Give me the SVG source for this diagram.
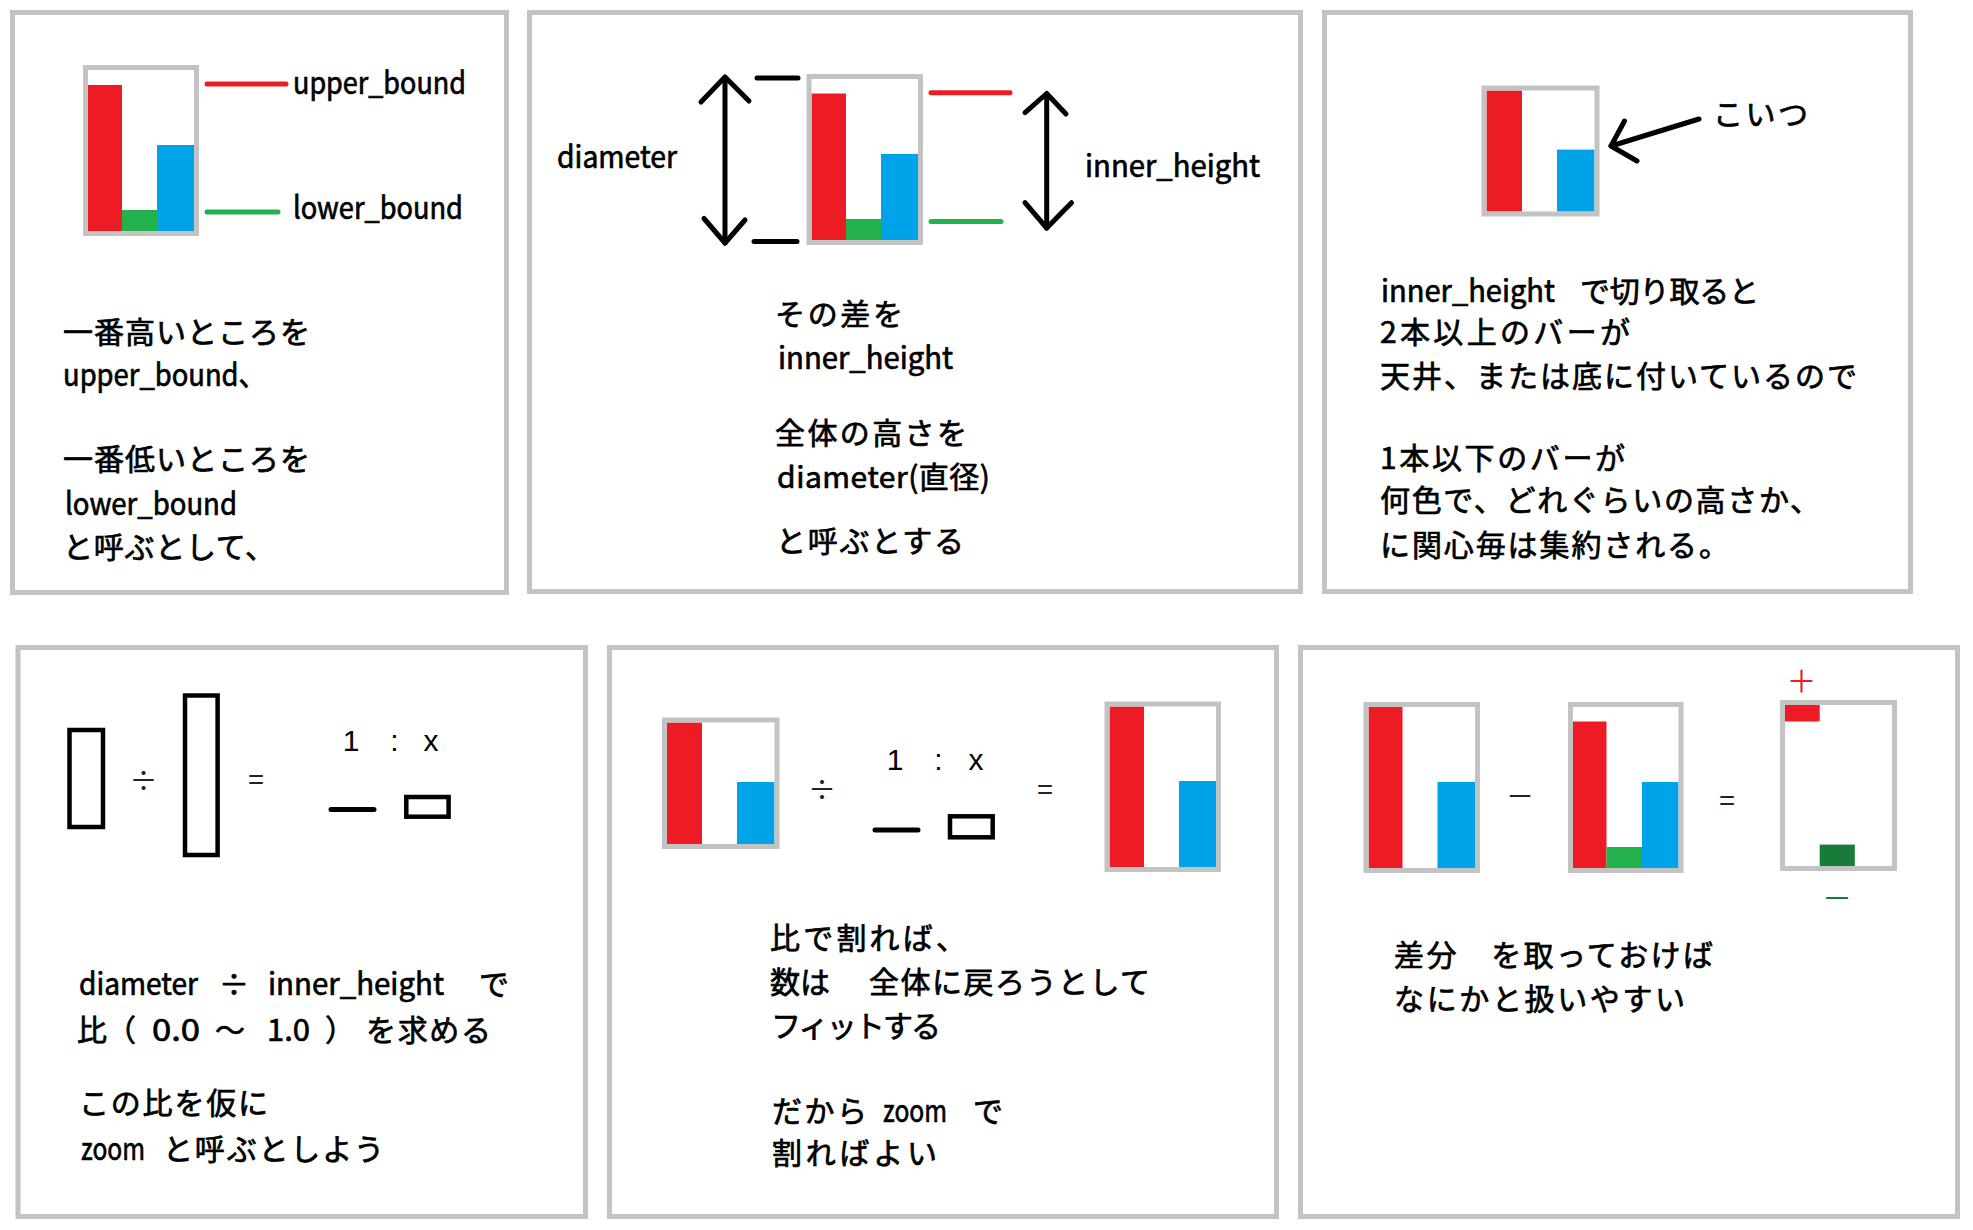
<svg xmlns="http://www.w3.org/2000/svg" width="1973" height="1230" viewBox="0 0 1973 1230">
<style>
.panel{fill:#fff;stroke:#c3c3c3;stroke-width:5}
.frame{fill:none;stroke:#c3c3c3;stroke-width:5}
.r{fill:#ed1c24}.g{fill:#22b14c}.b{fill:#00a2e8}.dg{fill:#197b3a}
.ln{stroke:#000;stroke-width:5;stroke-linecap:round;stroke-linejoin:round;fill:none}
.box{fill:none;stroke:#000;stroke-width:4.5}
.t{font-family:"Noto Sans CJK JP","Noto Sans",sans-serif;font-size:30px;fill:#000;stroke:#000;stroke-width:0.7px}
.lat{font-size:31px}
.num{font-family:"Liberation Sans",Arial,sans-serif;font-size:30px;fill:#000;text-anchor:middle}
.op{font-family:"Noto Sans CJK JP","Noto Sans",sans-serif;font-size:28px;fill:#222;text-anchor:middle}
</style>
<rect width="1973" height="1230" fill="#fff"/>

<g id="panel1">
<rect class="panel" x="12.5" y="12.5" width="494" height="580"/>
<rect class="r" x="88" y="85" width="34" height="146"/>
<rect class="g" x="122" y="210" width="35" height="21"/>
<rect class="b" x="157" y="145" width="37" height="86"/>
<rect class="frame" x="85.5" y="67.5" width="111" height="166"/>
<line x1="207" y1="84" x2="286" y2="84" stroke="#ed1c24" stroke-width="5" stroke-linecap="round"/>
<line x1="207" y1="212" x2="278" y2="212" stroke="#22b14c" stroke-width="5" stroke-linecap="round"/>
<text class="t lat" x="293" y="94" textLength="173" lengthAdjust="spacingAndGlyphs">upper_bound</text>
<text class="t lat" x="293" y="219" textLength="170" lengthAdjust="spacingAndGlyphs">lower_bound</text>
<text class="t" x="63" y="343" textLength="247" lengthAdjust="spacing">一番高いところを</text>
<text class="t lat" x="63" y="386" textLength="203" lengthAdjust="spacingAndGlyphs">upper_bound、</text>
<text class="t" x="63" y="470" textLength="247" lengthAdjust="spacing">一番低いところを</text>
<text class="t lat" x="65" y="515" textLength="172" lengthAdjust="spacingAndGlyphs">lower_bound</text>
<text class="t" x="63" y="558" textLength="212" lengthAdjust="spacing">と呼ぶとして、</text>
</g>

<g id="panel2">
<rect class="panel" x="529.5" y="12.5" width="771" height="579"/>
<rect class="r" x="811.5" y="93.5" width="34.5" height="146.5"/>
<rect class="g" x="846" y="219" width="35" height="21"/>
<rect class="b" x="881" y="154" width="37" height="86"/>
<rect class="frame" x="809" y="76.5" width="111.5" height="166"/>
<line class="ln" x1="725" y1="78" x2="725" y2="243"/>
<polyline class="ln" points="701,102 725,77 749,101"/>
<polyline class="ln" points="704,218.5 725,243 745,220"/>
<line class="ln" x1="757" y1="78" x2="798" y2="78"/>
<line class="ln" x1="754" y1="241.5" x2="797" y2="241.5"/>
<line x1="931" y1="92.7" x2="1010" y2="92.7" stroke="#ed1c24" stroke-width="5" stroke-linecap="round"/>
<line x1="931" y1="221.5" x2="1001" y2="221.5" stroke="#22b14c" stroke-width="5" stroke-linecap="round"/>
<line class="ln" x1="1046.7" y1="94" x2="1046.7" y2="228"/>
<polyline class="ln" points="1025,112.7 1046.7,93.5 1066,114"/>
<polyline class="ln" points="1025,202.7 1046.7,228 1071.5,202.7"/>
<text class="t lat" x="557" y="168" textLength="120" lengthAdjust="spacingAndGlyphs">diameter</text>
<text class="t lat" x="1085" y="177" textLength="175" lengthAdjust="spacingAndGlyphs">inner_height</text>
<text class="t" x="775" y="325" textLength="128" lengthAdjust="spacing">その差を</text>
<text class="t lat" x="778" y="369" textLength="175" lengthAdjust="spacingAndGlyphs">inner_height</text>
<text class="t" x="775" y="444" textLength="192" lengthAdjust="spacing">全体の高さを</text>
<text class="t" x="777" y="488" textLength="213" lengthAdjust="spacing">diameter(直径)</text>
<text class="t" x="776" y="552" textLength="188" lengthAdjust="spacing">と呼ぶとする</text>
</g>

<g id="panel3">
<rect class="panel" x="1324.5" y="12.5" width="586" height="579"/>
<rect class="r" x="1486.5" y="90.5" width="35.5" height="121"/>
<rect class="b" x="1557" y="149.6" width="37.5" height="62"/>
<rect class="frame" x="1484" y="88" width="113" height="126"/>
<line class="ln" x1="1699" y1="119" x2="1611" y2="146"/>
<polyline class="ln" points="1624.5,121 1611,146 1637,161"/>
<text class="t" x="1713" y="125" textLength="95" lengthAdjust="spacing">こいつ</text>
<text class="t lat" x="1381" y="302" textLength="174" lengthAdjust="spacingAndGlyphs">inner_height</text>
<text class="t" x="1580" y="302" textLength="179" lengthAdjust="spacing">で切り取ると</text>
<text class="t" x="1380" y="343" textLength="250" lengthAdjust="spacing">2本以上のバーが</text>
<text class="t" x="1380" y="387" textLength="477" lengthAdjust="spacing">天井、または底に付いているので</text>
<text class="t" x="1380" y="469" textLength="245" lengthAdjust="spacing">1本以下のバーが</text>
<text class="t" x="1380" y="511" textLength="440" lengthAdjust="spacing">何色で、どれぐらいの高さか、</text>
<text class="t" x="1380" y="556" textLength="349" lengthAdjust="spacing">に関心毎は集約される。</text>
</g>

<g id="panel4">
<rect class="panel" x="18" y="647.5" width="567.5" height="569"/>
<rect class="box" x="69.5" y="730" width="33.5" height="97"/>
<text class="op" x="143.5" y="791">÷</text>
<rect class="box" x="185" y="695.5" width="32.6" height="159.5"/>
<text class="op" x="256" y="790">=</text>
<text class="num" x="351" y="751">1</text>
<text class="num" x="394.5" y="751">:</text>
<text class="num" x="431" y="751">x</text>
<line class="ln" x1="331" y1="809.6" x2="374" y2="809.6"/>
<rect class="box" x="406.3" y="797" width="42.3" height="19.7"/>
<text class="t lat" x="79" y="995" textLength="119" lengthAdjust="spacingAndGlyphs">diameter</text>
<text class="t" x="234" y="995" text-anchor="middle">÷</text>
<text class="t lat" x="268" y="995" textLength="176" lengthAdjust="spacingAndGlyphs">inner_height</text>
<text class="t" x="479" y="995">で</text>
<text class="t" x="77" y="1041">比</text>
<text class="t" x="106" y="1041">（</text>
<text class="t lat" x="152" y="1041" textLength="48" lengthAdjust="spacingAndGlyphs">0.0</text>
<text class="t" x="215" y="1041">～</text>
<text class="t lat" x="267" y="1041" textLength="43" lengthAdjust="spacingAndGlyphs">1.0</text>
<text class="t" x="325" y="1041">）</text>
<text class="t" x="366" y="1041" textLength="125" lengthAdjust="spacing">を求める</text>
<text class="t" x="79" y="1114" textLength="189" lengthAdjust="spacing">この比を仮に</text>
<text class="t lat" x="81" y="1160" textLength="64" lengthAdjust="spacingAndGlyphs">zoom</text>
<text class="t" x="163" y="1160" textLength="221" lengthAdjust="spacing">と呼ぶとしよう</text>
</g>

<g id="panel5">
<rect class="panel" x="609.5" y="647.5" width="667" height="569"/>
<rect class="r" x="667" y="722.5" width="35" height="121.5"/>
<rect class="b" x="737" y="782" width="37.5" height="62"/>
<rect class="frame" x="664.5" y="720" width="112.5" height="126.5"/>
<text class="op" x="822" y="800">÷</text>
<text class="num" x="895" y="770">1</text>
<text class="num" x="938.5" y="770">:</text>
<text class="num" x="976" y="770">x</text>
<line class="ln" x1="875" y1="830" x2="918" y2="830"/>
<rect class="box" x="950" y="816.3" width="42.7" height="21"/>
<text class="op" x="1045" y="800">=</text>
<rect class="r" x="1109.5" y="706.5" width="34.5" height="160.5"/>
<rect class="b" x="1179" y="781" width="37" height="86"/>
<rect class="frame" x="1107" y="704" width="111.5" height="165.5"/>
<text class="t" x="770" y="949" textLength="196" lengthAdjust="spacing">比で割れば、</text>
<text class="t" x="770" y="993">数は</text>
<text class="t" x="869" y="993" textLength="281" lengthAdjust="spacing">全体に戻ろうとして</text>
<text class="t" x="771" y="1037" textLength="170" lengthAdjust="spacing">フィットする</text>
<text class="t" x="772" y="1122" textLength="95" lengthAdjust="spacing">だから</text>
<text class="t lat" x="883" y="1122" textLength="64" lengthAdjust="spacingAndGlyphs">zoom</text>
<text class="t" x="973" y="1122">で</text>
<text class="t" x="772" y="1164" textLength="165" lengthAdjust="spacing">割ればよい</text>
</g>

<g id="panel6">
<rect class="panel" x="1300.5" y="647.5" width="657" height="569"/>
<rect class="r" x="1368.5" y="707" width="34" height="161"/>
<rect class="b" x="1437.5" y="782" width="37.5" height="86"/>
<rect class="frame" x="1366" y="704.5" width="111.5" height="166"/>
<text class="op" x="1520" y="807">－</text>
<rect class="r" x="1573" y="721.5" width="33.5" height="146.5"/>
<rect class="g" x="1606.5" y="847" width="35.5" height="21"/>
<rect class="b" x="1642" y="782" width="36.5" height="86"/>
<rect class="frame" x="1570.5" y="704.5" width="110.5" height="166"/>
<text class="op" x="1727" y="811">=</text>
<rect class="r" x="1785" y="705" width="34.7" height="16.5"/>
<rect class="dg" x="1819.7" y="844.6" width="35.1" height="21.4"/>
<rect class="frame" x="1782.5" y="702.5" width="112" height="166"/>
<text class="op" x="1801.5" y="692" style="fill:#ed1c24;font-size:30px">＋</text>
<text class="op" x="1837" y="909" style="fill:#197b3a;font-size:30px">－</text>
<text class="t" x="1394" y="966" textLength="319" lengthAdjust="spacing">差分　を取っておけば</text>
<text class="t" x="1394" y="1010" textLength="291" lengthAdjust="spacing">なにかと扱いやすい</text>
</g>

<g id="connectors"></g>
</svg>
